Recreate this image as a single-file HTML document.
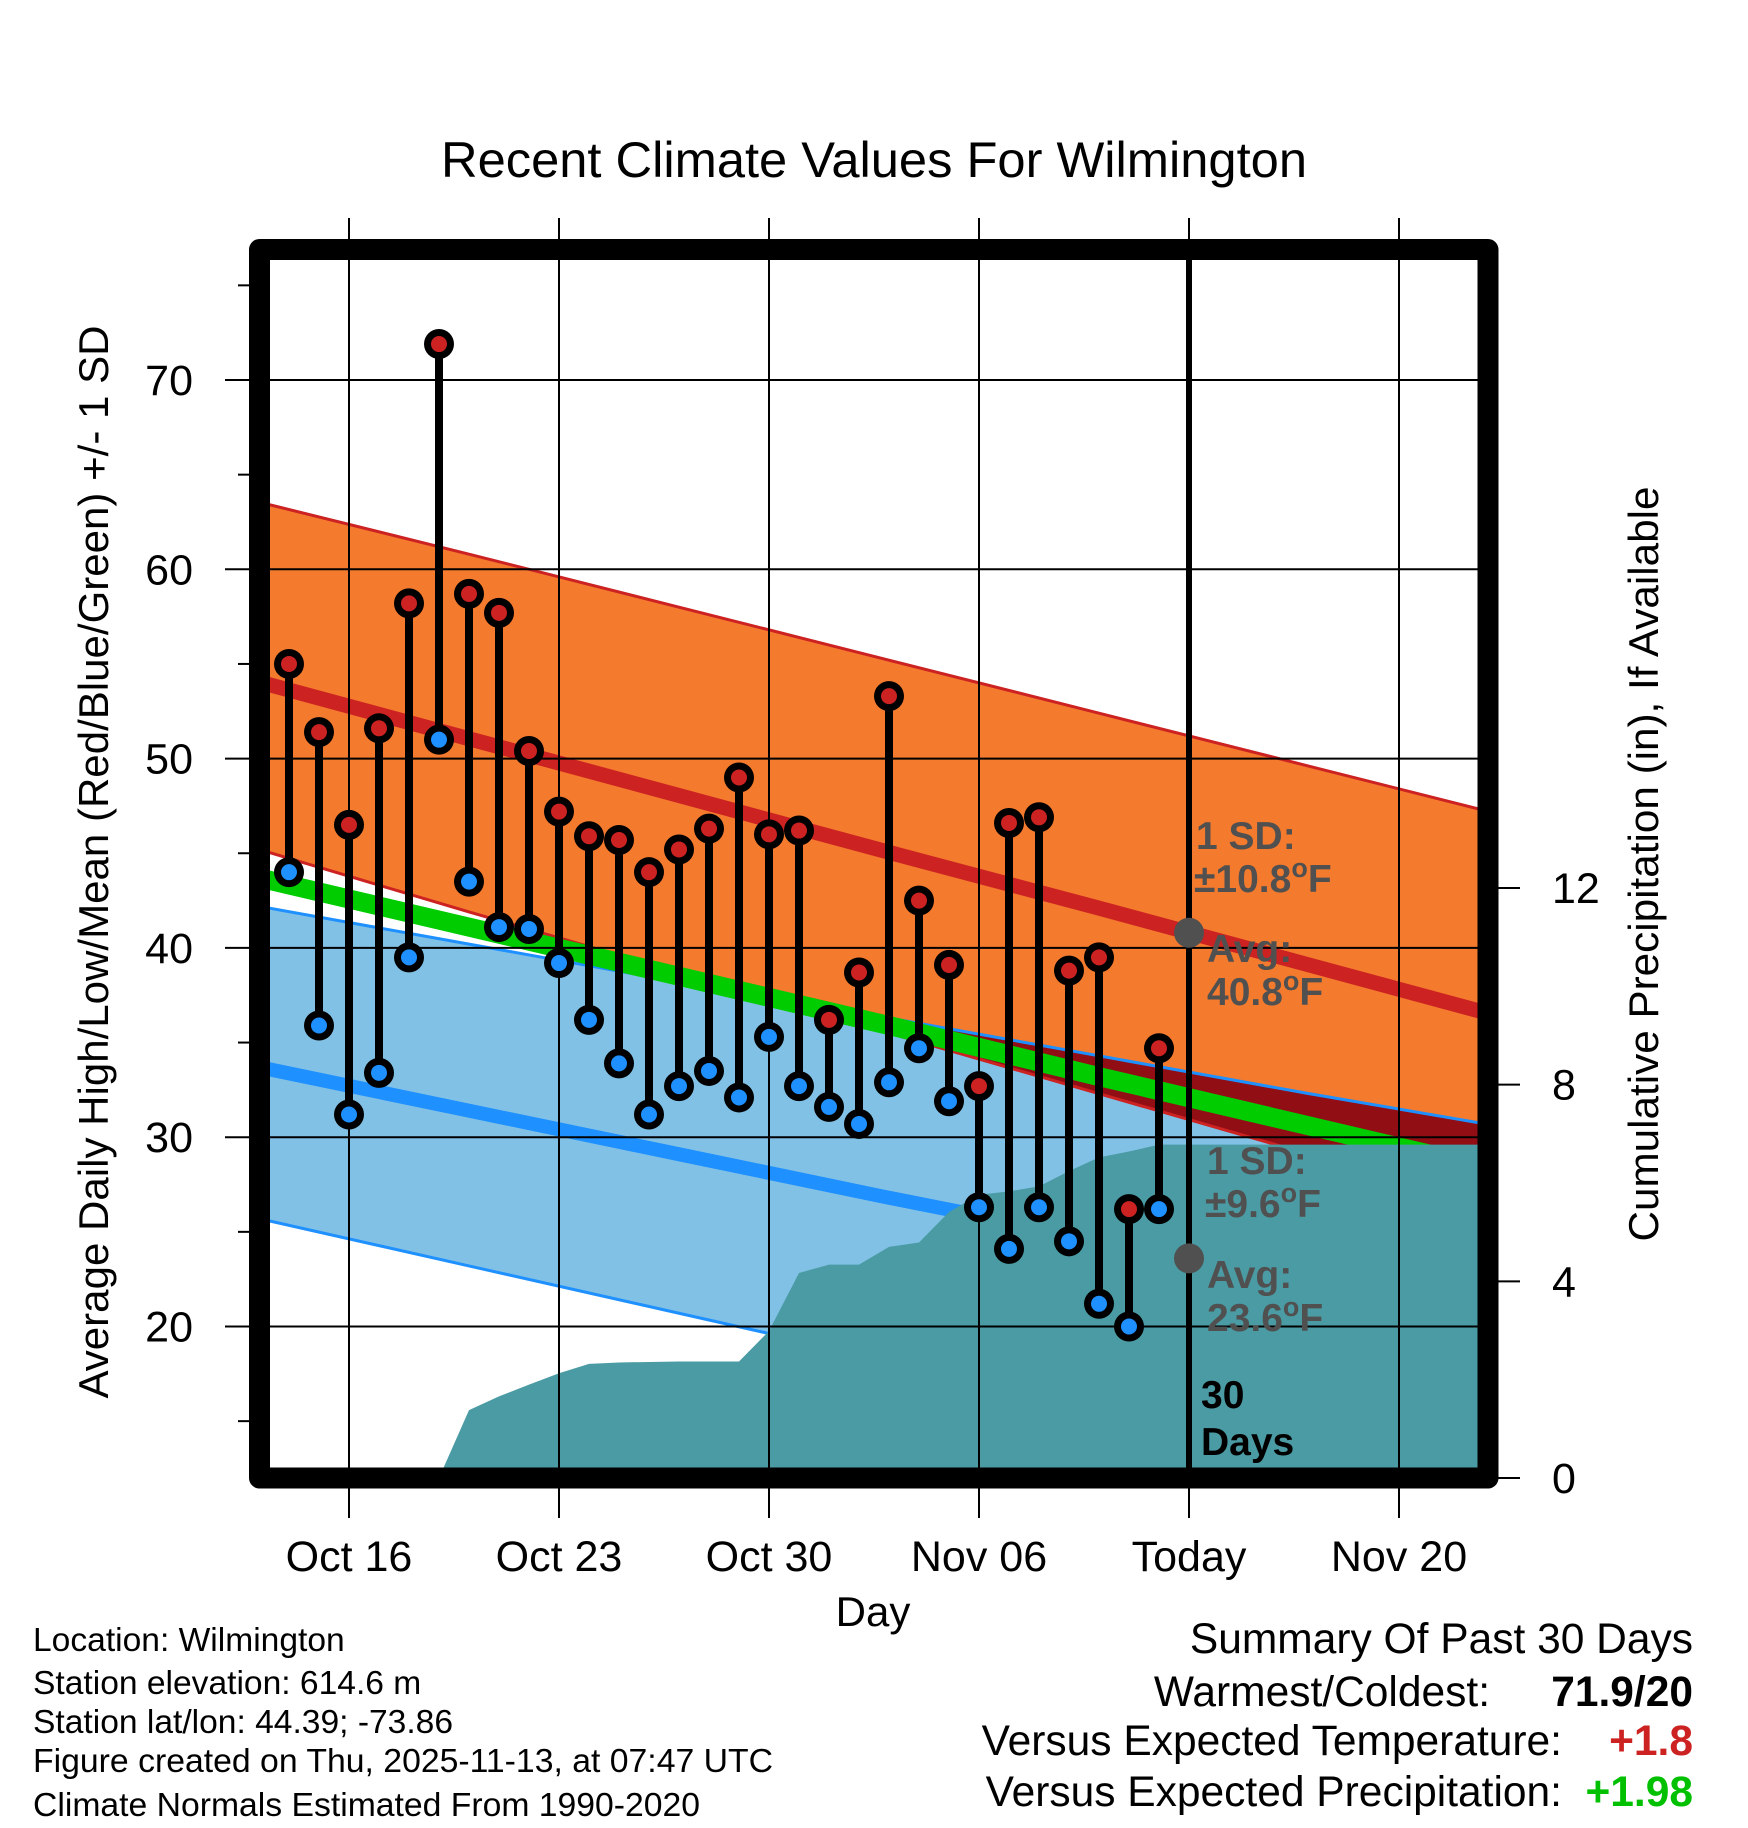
<!DOCTYPE html>
<html><head><meta charset="utf-8"><style>
html,body{margin:0;padding:0;background:#fff;}
svg{display:block;font-family:"Liberation Sans",Arial,sans-serif;}
</style></head><body>
<svg id="chart" width="1748" height="1828" viewBox="0 0 1748 1828" xmlns="http://www.w3.org/2000/svg">
<defs><clipPath id="plotclip"><rect x="270" y="260" width="1208" height="1208"/></clipPath></defs>
<g id="layer-bands" clip-path="url(#plotclip)"></g>
<g id="layer-grid"></g>
<g id="layer-marks" clip-path="url(#plotclip)"></g>
<rect x="259.5" y="249.5" width="1228.5" height="1228.5" fill="none" stroke="#000" stroke-width="21" stroke-linejoin="round"/>
<text x="874" y="177" font-size="50" text-anchor="middle" textLength="866" lengthAdjust="spacingAndGlyphs">Recent Climate Values For Wilmington</text>
<text transform="translate(108,862) rotate(-90)" font-size="42" text-anchor="middle" textLength="1073" lengthAdjust="spacingAndGlyphs">Average Daily High/Low/Mean (Red/Blue/Green) +/- 1 SD</text>
<text transform="translate(1658,864) rotate(-90)" font-size="42" text-anchor="middle" textLength="755" lengthAdjust="spacingAndGlyphs">Cumulative Precipitation (in), If Available</text>
<text x="873" y="1626" font-size="42" text-anchor="middle">Day</text>
<g font-size="33.6">
<text x="33" y="1651">Location: Wilmington</text>
<text x="33" y="1694">Station elevation: 614.6 m</text>
<text x="33" y="1733">Station lat/lon: 44.39; -73.86</text>
<text x="33" y="1772" textLength="740" lengthAdjust="spacingAndGlyphs">Figure created on Thu, 2025-11-13, at 07:47 UTC</text>
<text x="33" y="1816" textLength="667" lengthAdjust="spacingAndGlyphs">Climate Normals Estimated From 1990-2020</text>
</g>
<g font-size="42.5" text-anchor="end">
<text x="1693" y="1653">Summary Of Past 30 Days</text>
<text x="1490" y="1706">Warmest/Coldest:</text>
<text x="1693" y="1706" font-weight="bold">71.9/20</text>
<text x="1562" y="1755">Versus Expected Temperature:</text>
<text x="1693" y="1755" font-weight="bold" fill="#cc2222">+1.8</text>
<text x="1562" y="1806">Versus Expected Precipitation:</text>
<text x="1693" y="1806" font-weight="bold" fill="#00c000">+1.98</text>
</g>
</svg>
<script>
// ---- data ----
const dayLabels = ["Oct 14","Oct 15","Oct 16","Oct 17","Oct 18","Oct 19","Oct 20","Oct 21","Oct 22","Oct 23","Oct 24","Oct 25","Oct 26","Oct 27","Oct 28","Oct 29","Oct 30","Oct 31","Nov 01","Nov 02","Nov 03","Nov 04","Nov 05","Nov 06","Nov 07","Nov 08","Nov 09","Nov 10","Nov 11","Nov 12"];
const dayIndex = [-2,-1,0,1,2,3,4,5,6,7,8,9,10,11,12,13,14,15,16,17,18,19,20,21,22,23,24,25,26,27];
const highs = [55.0,51.4,46.5,51.6,58.2,71.9,58.7,57.7,50.4,47.2,45.9,45.7,44.0,45.2,46.3,49.0,46.0,46.2,36.2,38.7,53.3,42.5,39.1,32.7,46.6,46.9,38.8,39.5,26.2,34.7];
const lows = [44.0,35.9,31.2,33.4,39.5,51.0,43.5,41.1,41.0,39.2,36.2,33.9,31.2,32.7,33.5,32.1,35.3,32.7,31.6,30.7,32.9,34.7,31.9,26.3,24.1,26.3,24.5,21.2,20.0,26.2];
const precip = [0,0,0,0,0,0,1.38,1.66,1.90,2.13,2.32,2.35,2.36,2.37,2.37,2.37,2.99,4.17,4.34,4.34,4.70,4.79,5.41,5.76,5.83,5.93,6.24,6.52,6.64,6.78];
const normDays = [-3,4,11,18,25,32,39];
const normHighUpper = [63.55,60.8,58.0,55.2,52.4,49.6,46.8];
const normHigh = [54.05,51.05,48.05,45.05,42.1,39.1,36.1];
const normHighLower = [45.2,41.9,38.7,35.5,32.3,29.1,25.9];
const normLowUpper = [42.2,40.2,38.2,36.3,34.3,32.3,30.4];
const normLow = [33.7,31.4,29.1,26.8,24.6,22.3,20.0];
const normLowLower = [25.7,23.2,20.7,18.2,15.7,13.2,10.7];
const normMean = [43.7,41.1,38.5,35.9,33.2,30.6,28.0];
const xTickDays = [0,7,14,21,28,35];
const xTickLabels = ["Oct 16","Oct 23","Oct 30","Nov 06","Today","Nov 20"];
const yTicks = [20,30,40,50,60,70];
const yMinorTicks = [15,25,35,45,55,65,75];
const pTicks = [0,4,8,12];
const todayDay = 28;
const todayAvgHigh = 40.8;
const todayAvgLow = 23.6;

// ---- scales ----
const X = d => 349 + d*30;
const Y = t => 380 + (70 - t)*18.93;
const P = p => 1478 - p*49.17;
const NS = "http://www.w3.org/2000/svg";
function mk(tag, attrs, parent){const e=document.createElementNS(NS,tag);for(const k in attrs)e.setAttribute(k,attrs[k]);parent.appendChild(e);return e;}
const bands = document.getElementById('layer-bands');
const grid = document.getElementById('layer-grid');
const marks = document.getElementById('layer-marks');
const svg = document.getElementById('chart');
const linePts = arr => normDays.map((d,i)=>X(d)+','+Y(arr[i])).join(' ');
const bandPts = (up,lo) => normDays.map((d,i)=>X(d)+','+Y(up[i])).concat(normDays.slice().reverse().map((d,j)=>{const i=normDays.length-1-j;return X(d)+','+Y(lo[i]);})).join(' ');

let e;
e = mk('polygon',{points:bandPts(normHighUpper,normHighLower),fill:'#f47a2d'},bands);
 
e = mk('polygon',{points:bandPts(normLowUpper,normLowLower),fill:'#82c1e6'},bands);
 
const cp = mk('clipPath',{id:'hiclip'},svg.querySelector('defs'));
mk('polygon',{points:bandPts(normHighUpper,normHighLower)},cp);
e = mk('polygon',{points:bandPts(normLowUpper,normLowLower),fill:'#920e15','clip-path':'url(#hiclip)'},bands);
 
[[normHighUpper,'#cc2222','high-sd-upper'],[normHighLower,'#cc2222','high-sd-lower'],[normLowUpper,'#1e90ff','low-sd-upper'],[normLowLower,'#1e90ff','low-sd-lower']].forEach(a=>{
  e = mk('polyline',{points:linePts(a[0]),fill:'none',stroke:a[1],'stroke-width':3},bands);
   
});
e = mk('polyline',{points:linePts(normHigh),fill:'none',stroke:'#cc2222','stroke-width':15},bands);
 
e = mk('polyline',{points:linePts(normLow),fill:'none',stroke:'#1e90ff','stroke-width':14},bands);
 
e = mk('polyline',{points:linePts(normMean),fill:'none',stroke:'#00cc00','stroke-width':19},bands);
 
// precip area
let pp = [X(dayIndex[0])+','+P(0)];
dayIndex.forEach((d,i)=>pp.push(X(d)+','+P(precip[i])));
pp.push('1478,'+P(precip[precip.length-1]));
pp.push('1478,'+P(0));
e = mk('polygon',{points:pp.join(' '),fill:'#4a9ba4'},bands);
 

// grid
yTicks.forEach(t=>{
  e = mk('line',{x1:225,x2:1478,y1:Y(t),y2:Y(t),stroke:'#000','stroke-width':2},grid);
   
  e = mk('text',{x:193,y:Y(t)+15,'font-size':43,'text-anchor':'end'},grid);
  e.textContent = t;
   
});
yMinorTicks.forEach(t=>{
  e = mk('line',{x1:238,x2:250,y1:Y(t),y2:Y(t),stroke:'#000','stroke-width':2},grid);
   
});
xTickDays.forEach((d,i)=>{
  if(d!==todayDay){
    e = mk('line',{x1:X(d),x2:X(d),y1:218,y2:1518,stroke:'#000','stroke-width':2},grid);
     
  } else {
    e = mk('line',{x1:X(d),x2:X(d),y1:218,y2:250,stroke:'#000','stroke-width':2},grid);
     
    e = mk('line',{x1:X(d),x2:X(d),y1:1478,y2:1518,stroke:'#000','stroke-width':2},grid);
     
  }
  e = mk('text',{x:X(d),y:1571,'font-size':43,'text-anchor':'middle'},grid);
  e.textContent = xTickLabels[i];
   
});
pTicks.forEach(p=>{
  e = mk('line',{x1:1498,x2:1520,y1:P(p),y2:P(p),stroke:'#000','stroke-width':2},grid);
   
  e = mk('text',{x:1552,y:P(p)+15,'font-size':43},grid);
  e.textContent = p;
   
});

// today line & annotations
e = mk('line',{x1:X(todayDay),x2:X(todayDay),y1:260,y2:1468,stroke:'#000','stroke-width':6},marks);
 
[todayAvgHigh,todayAvgLow].forEach(v=>{
  e = mk('circle',{cx:X(todayDay),cy:Y(v),r:15,fill:'#505050'},marks);
   
});
function ann(x,y,main,sup,tail,name,color){
  const t = mk('text',{x:x,y:y,'font-size':39,'font-weight':'bold',fill:color||'#505050'},marks);
   
  t.appendChild(document.createTextNode(main));
  if(sup){const s=mk('tspan',{dy:-15,'font-size':27},t);s.textContent=sup;const s2=mk('tspan',{dy:15},t);s2.textContent=tail;}
}
ann(1196,849,'1 SD:','','','high-sd-label');
ann(1194,892,'±10.8','o','F','high-sd-value');
ann(1207,962,'Avg:','','','high-avg-label');
ann(1207,1005,todayAvgHigh.toFixed(1),'o','F','high-avg-value');
ann(1207,1174,'1 SD:','','','low-sd-label');
ann(1205,1217,'±9.6','o','F','low-sd-value');
ann(1207,1288,'Avg:','','','low-avg-label');
ann(1207,1331,todayAvgLow.toFixed(1),'o','F','low-avg-value');
ann(1201,1408,'30','','','days-count-label','#000');
ann(1201,1455,'Days','','','days-word-label','#000');

// stems and dots
dayIndex.forEach((d,i)=>{
  const x = X(d);
  e = mk('line',{x1:x,x2:x,y1:Y(highs[i]),y2:Y(lows[i]),stroke:'#000','stroke-width':8},marks);
   
  [[highs[i],'#cc2222','high-dot'],[lows[i],'#1e90ff','low-dot']].forEach(a=>{
    e = mk('circle',{cx:x,cy:Y(a[0]),r:15,fill:'#000'},marks);
     
    e = mk('circle',{cx:x,cy:Y(a[0]),r:8,fill:a[1]},marks);
     
  });
});
</script>
</body></html>
